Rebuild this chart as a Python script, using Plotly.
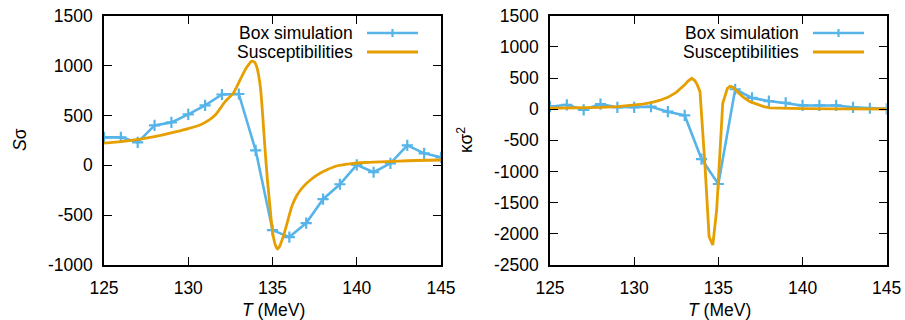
import plotly.graph_objects as go

# ---------------- data ----------------
T_box = [125, 126, 127, 128, 129, 130, 131, 132, 133, 134, 135, 136, 137, 138, 139, 140, 141, 142, 143, 144, 145]
S_sigma_box = [280, 280, 230, 400, 430, 510, 600, 710, 715, 150, -650, -720, -580, -340, -190, 5, -70, 20, 200, 120, 80]
kappa_box = [40, 70, -10, 80, 30, 30, 40, -40, -100, -800, -1200, 320, 180, 130, 100, 60, 60, 60, 30, 15, 5]

T_sus_left = [125, 126, 126.8, 127.5, 128.5, 129.3, 130, 130.7, 131.2, 131.6, 131.9, 132.2, 132.67, 133.0,
              133.27, 133.5, 133.77, 133.95, 134.06, 134.18, 134.3, 134.43, 134.56, 134.7, 134.85, 134.95,
              135.05, 135.17, 135.29, 135.4, 135.5, 135.64, 135.9, 136.14, 136.45, 136.83, 137.3, 137.82,
              138.3, 138.8, 139.3, 139.8, 140.5, 141.0, 141.78, 142.5, 143.5, 145]
S_sigma_sus = [222, 238, 254, 272, 305, 337, 368, 404, 450, 504, 571, 640, 722, 830,
               922, 990, 1045, 1030, 989, 900, 755, 470, 153, -150, -415, -590,
               -716, -800, -840, -820, -780, -716, -560, -415, -300, -214, -140, -80,
               -40, -7, 8, 20, 28, 32, 36, 42, 48, 53]

T_sus_right = [125, 126, 127, 128, 129, 130, 130.5, 131, 131.5, 132, 132.5, 133, 133.2, 133.42, 133.6,
               133.75, 133.91, 134.21, 134.45, 134.67, 134.9, 135.26, 135.54, 135.7, 135.85, 136.2, 136.5,
               136.88, 137.3, 137.7, 138.07, 139, 140, 142, 145]
kappa_sus = [15, 18, 22, 28, 40, 62, 80, 107, 140, 190, 270, 390, 450, 496, 460,
             390, 281, -922, -2045, -2180, -1617, 95, 335, 368, 355, 260, 190,
             121, 75, 40, 20, 12, 8, 5, 3]

x_ticks = [125, 130, 135, 140, 145]
y_ticks_left = [-1000, -500, 0, 500, 1000, 1500]
y_ticks_right = [-2500, -2000, -1500, -1000, -500, 0, 500, 1000, 1500]
series_names = ["Box simulation", "Susceptibilities"]

BLUE = "#56B4E9"
ORANGE = "#E69F00"
W, H = 905, 320
FONT = "Liberation Sans, Arial, sans-serif"
FS = 17.5

fig = go.Figure()

blue_marker = dict(symbol="cross-thin", size=8, color=BLUE, line=dict(color=BLUE, width=2.2))

# left panel
fig.add_trace(go.Scatter(x=T_box, y=S_sigma_box, mode="lines+markers", xaxis="x", yaxis="y",
                         line=dict(color=BLUE, width=2.6), marker=blue_marker, showlegend=False))
fig.add_trace(go.Scatter(x=T_sus_left, y=S_sigma_sus, mode="lines", xaxis="x", yaxis="y",
                         line=dict(color=ORANGE, width=2.8, shape="spline", smoothing=0.6),
                         showlegend=False))
# right panel
fig.add_trace(go.Scatter(x=T_box, y=kappa_box, mode="lines+markers", xaxis="x2", yaxis="y2",
                         line=dict(color=BLUE, width=2.6), marker=blue_marker, showlegend=False))
fig.add_trace(go.Scatter(x=T_sus_right, y=kappa_sus, mode="lines", xaxis="x2", yaxis="y2",
                         line=dict(color=ORANGE, width=2.8), showlegend=False))

# legend (gnuplot style: text right, sample line to the right)
def px(x):
    return x / W

def py(y):
    return 1 - y / H

def text(x, y, s, xanchor="center", angle=0):
    fig.add_annotation(x=px(x), y=py(y), xref="paper", yref="paper", text=s, textangle=angle,
                       showarrow=False, xanchor=xanchor, yanchor="middle",
                       font=dict(family=FONT, size=FS, color="black"))

for (x0, x1, xt) in [(367, 418, 355), (813, 864, 801)]:
    xm = (x0 + x1) / 2
    fig.add_shape(type="line", xref="paper", yref="paper", x0=px(x0), x1=px(x1), y0=py(33), y1=py(33),
                  line=dict(color=BLUE, width=2.6))
    fig.add_shape(type="line", xref="paper", yref="paper", x0=px(xm), x1=px(xm), y0=py(29), y1=py(37),
                  line=dict(color=BLUE, width=2.2))
    fig.add_shape(type="line", xref="paper", yref="paper", x0=px(x0), x1=px(x1), y0=py(52), y1=py(52),
                  line=dict(color=ORANGE, width=2.8))
    for name, yy in zip(series_names, [33, 52]):
        text(xt, yy, name, xanchor="right")

def labels(vals):
    return [str(v) for v in vals]  # plain hyphen minus, as in the reference

axis_common = dict(showline=True, linecolor="black", linewidth=1.6, mirror="allticks",
                   ticks="inside", ticklen=8, tickwidth=1.4, tickcolor="black",
                   showgrid=False, zeroline=False, ticklabelstandoff=6,
                   tickfont=dict(family=FONT, size=FS, color="black"))

yb, yt = py(265), py(15.7)
fig.update_layout(
    width=W, height=H, margin=dict(l=0, r=0, t=0, b=0, autoexpand=False),
    paper_bgcolor="white", plot_bgcolor="white",
    xaxis=dict(domain=[px(104), px(441)], range=[125, 145], tickvals=x_ticks, ticktext=labels(x_ticks),
               anchor="y", **axis_common),
    yaxis=dict(domain=[yb, yt], range=[-1000, 1500], tickvals=y_ticks_left, ticktext=labels(y_ticks_left),
               anchor="x", **axis_common),
    xaxis2=dict(domain=[px(550), px(886.7)], range=[125, 145], tickvals=x_ticks, ticktext=labels(x_ticks),
                anchor="y2", **axis_common),
    yaxis2=dict(domain=[yb, yt], range=[-2500, 1500], tickvals=y_ticks_right, ticktext=labels(y_ticks_right),
                anchor="x2", **axis_common),
    showlegend=False,
)

# axis labels
text(20, 140, "<i>S</i>σ", angle=-90)
text(465, 140, "κσ<sup>2</sup>", angle=-90)
text(273, 310, "<i>T</i> (MeV)")
text(719, 310, "<i>T</i> (MeV)")

fig.write_html("out.html", post_script="document.body.style.margin='0px';",
               config={"displayModeBar": False})
